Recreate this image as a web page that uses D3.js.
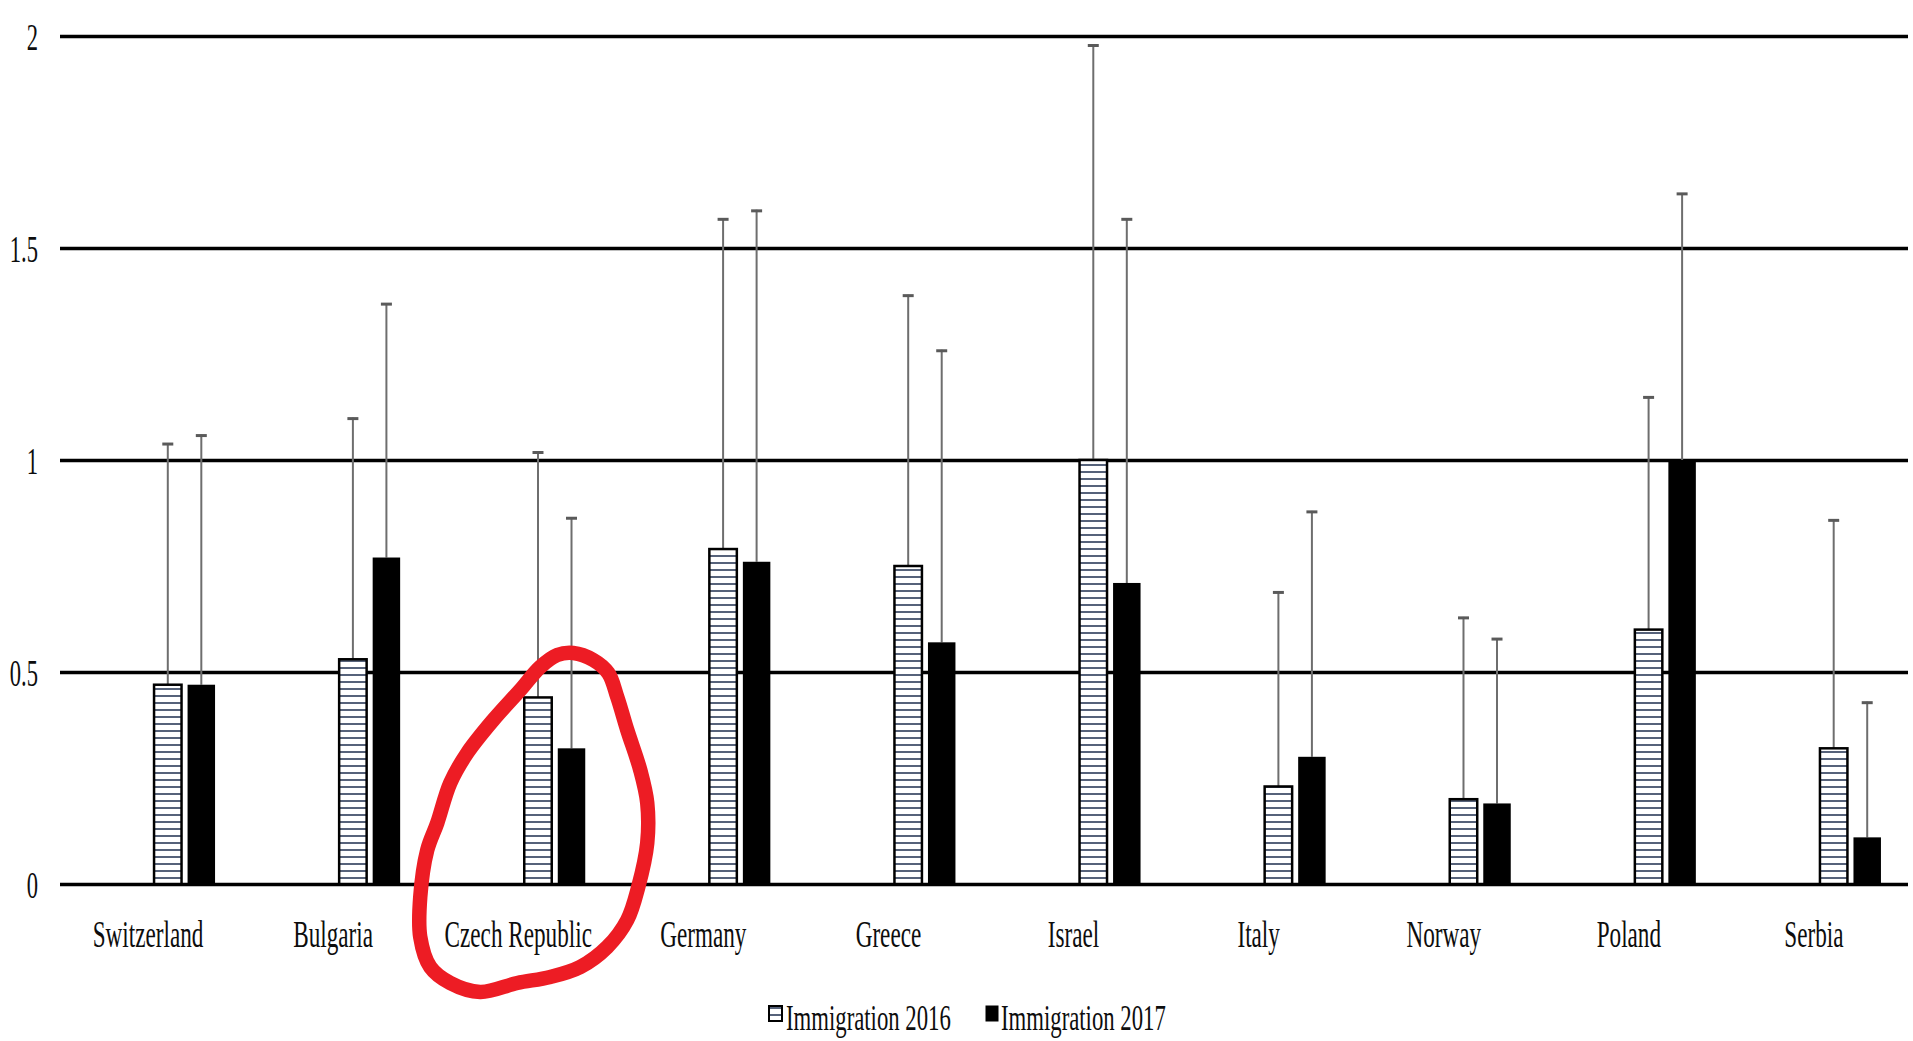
<!DOCTYPE html>
<html>
<head>
<meta charset="utf-8">
<script src="https://cdn.jsdelivr.net/npm/d3@7"></script>
<style>
  body { margin: 0; background: #fff; }
  svg text { font-family: "Liberation Serif", "Times New Roman", serif; fill: #0d0d0d; }
</style>
</head>
<body>
<svg></svg>
<script>
const width = 1913, height = 1041;

const svg = d3.select('svg')
    .attr('width', width)
    .attr('height', height);

// data
const countries = ['Switzerland', 'Bulgaria', 'Czech Republic', 'Germany', 'Greece', 'Israel', 'Italy', 'Norway', 'Poland', 'Serbia'];
const series = ['Immigration 2016', 'Immigration 2017'];
const imm2016 = [0.47, 0.53, 0.44, 0.79, 0.75, 1.00, 0.23, 0.20, 0.60, 0.32];
const imm2017 = [0.47, 0.77, 0.32, 0.76, 0.57, 0.71, 0.30, 0.19, 1.00, 0.11];
const err2016 = [0.57, 0.57, 0.58, 0.78, 0.64, 0.98, 0.46, 0.43, 0.55, 0.54];
const err2017 = [0.59, 0.60, 0.545, 0.83, 0.69, 0.86, 0.58, 0.39, 0.63, 0.32];
const yTicks = [0, 0.5, 1, 1.5, 2];

const plotLeft = 60, plotRight = 1908;
const txtScale = 0.61;

const x = d3.scaleBand()
    .domain(countries)
    .range([55.5, 1906.5]);

// bars sit to the right of the category centre
const x1 = d3.scaleBand()
    .domain(series)
    .range([x.bandwidth() / 2 + 6, x.bandwidth() / 2 + 67])
    .paddingInner(0.18);

const y = d3.scaleLinear()
    .domain([0, 2])
    .range([884, 36]);

// hatch pattern for 2016
const defs = svg.append('defs');
const pat = defs.append('pattern')
    .attr('id', 'hatch')
    .attr('patternUnits', 'userSpaceOnUse')
    .attr('width', 8)
    .attr('height', 7);
pat.append('rect').attr('width', 8).attr('height', 7).attr('fill', '#fff');
pat.append('rect').attr('y', 2).attr('width', 8).attr('height', 2).attr('fill', '#56627a');

// gridlines + tick labels
const yAxis = svg.append('g')
    .attr('transform', `translate(${plotLeft},0)`)
    .call(d3.axisLeft(y).tickValues(yTicks).tickSize(-(plotRight - plotLeft)).tickFormat(d3.format('')));

yAxis.select('.domain').remove();
yAxis.selectAll('.tick line')
    .attr('stroke', '#000')
    .attr('stroke-width', 3.5);
yAxis.selectAll('.tick text')
    .attr('x', 0)
    .attr('dy', '0.36em')
    .attr('transform', `translate(-22,0) scale(${txtScale},1)`)
    .style('font-size', '37px')
    .attr('fill', '#0d0d0d');

const rows = countries.map((c, i) => ({
    country: c,
    vals: [
        { s: series[0], v: imm2016[i], e: err2016[i] },
        { s: series[1], v: imm2017[i], e: err2017[i] }
    ]
}));

const groups = svg.selectAll('g.country')
    .data(rows)
    .enter()
    .append('g')
    .attr('class', 'country')
    .attr('transform', d => `translate(${x(d.country)},0)`);

// error bars (upper only)
groups.selectAll('line.stem')
    .data(d => d.vals)
    .enter()
    .append('line')
    .attr('class', 'stem')
    .attr('x1', d => x1(d.s) + x1.bandwidth() / 2)
    .attr('x2', d => x1(d.s) + x1.bandwidth() / 2)
    .attr('y1', d => y(d.v))
    .attr('y2', d => y(d.v + d.e))
    .attr('stroke', '#6e6e6e')
    .attr('stroke-width', 2);

groups.selectAll('line.cap')
    .data(d => d.vals)
    .enter()
    .append('line')
    .attr('class', 'cap')
    .attr('x1', d => x1(d.s) + x1.bandwidth() / 2 - 5.5)
    .attr('x2', d => x1(d.s) + x1.bandwidth() / 2 + 5.5)
    .attr('y1', d => y(d.v + d.e) + 1)
    .attr('y2', d => y(d.v + d.e) + 1)
    .attr('stroke', '#5a5a5a')
    .attr('stroke-width', 3);

// bars
groups.selectAll('rect.bar')
    .data(d => d.vals)
    .enter()
    .append('rect')
    .attr('class', 'bar')
    .attr('x', d => x1(d.s))
    .attr('y', d => y(d.v))
    .attr('width', x1.bandwidth())
    .attr('height', d => y(0) - y(d.v))
    .attr('fill', d => d.s === series[0] ? 'url(#hatch)' : '#000')
    .attr('stroke', '#000')
    .attr('stroke-width', d => d.s === series[0] ? 2.5 : 0);

// category labels
svg.selectAll('.x-label')
    .data(countries)
    .enter()
    .append('text')
    .attr('class', 'x-label')
    .attr('transform', d => `translate(${x(d) + x.bandwidth() / 2},947) scale(${txtScale},1)`)
    .attr('text-anchor', 'middle')
    .style('font-size', '38px')
    .text(d => d);

// legend
const legendX = [768, 985];
const legend = svg.selectAll('.legend')
    .data(series)
    .enter()
    .append('g')
    .attr('class', 'legend')
    .attr('transform', (d, i) => `translate(${legendX[i]},1005)`);

legend.append('rect')
    .attr('x', 1)
    .attr('y', 1)
    .attr('width', (d, i) => i === 0 ? 13 : 12)
    .attr('height', 15)
    .attr('fill', (d, i) => i === 0 ? 'url(#hatch)' : '#000')
    .attr('stroke', '#000')
    .attr('stroke-width', (d, i) => i === 0 ? 2 : 1);

legend.append('text')
    .attr('transform', (d, i) => `translate(${i === 0 ? 18 : 16},25) scale(0.65,1)`)
    .style('font-size', '35px')
    .text(d => d);

// red hand-drawn loop around Czech Republic (offsets from category centre / baseline)
const loopDx = [22, 39, 55, 75, 90, 99, 109, 122, 129, 129, 120, 109, 89, 62, 32, -1, -38, -68, -88, -98, -98, -91, -81, -68, -51, -25, 2];
const loopDy = [-217, -229, -231, -224, -211, -187, -154, -114, -81, -41, 3, 36, 63, 83, 93, 99, 108, 99, 83, 53, 13, -34, -61, -101, -131, -164, -194];
const cx = x('Czech Republic') + x.bandwidth() / 2;
const loopLine = d3.line()
    .x(d => cx + d[0])
    .y(d => y(0) + d[1])
    .curve(d3.curveCatmullRomClosed);

svg.append('path')
    .datum(loopDx.map((d, i) => [d, loopDy[i]]))
    .attr('d', loopLine)
    .attr('fill', 'none')
    .attr('stroke', '#ed1c24')
    .attr('stroke-width', 14.5)
    .attr('stroke-linejoin', 'round');
</script>
</body>
</html>
